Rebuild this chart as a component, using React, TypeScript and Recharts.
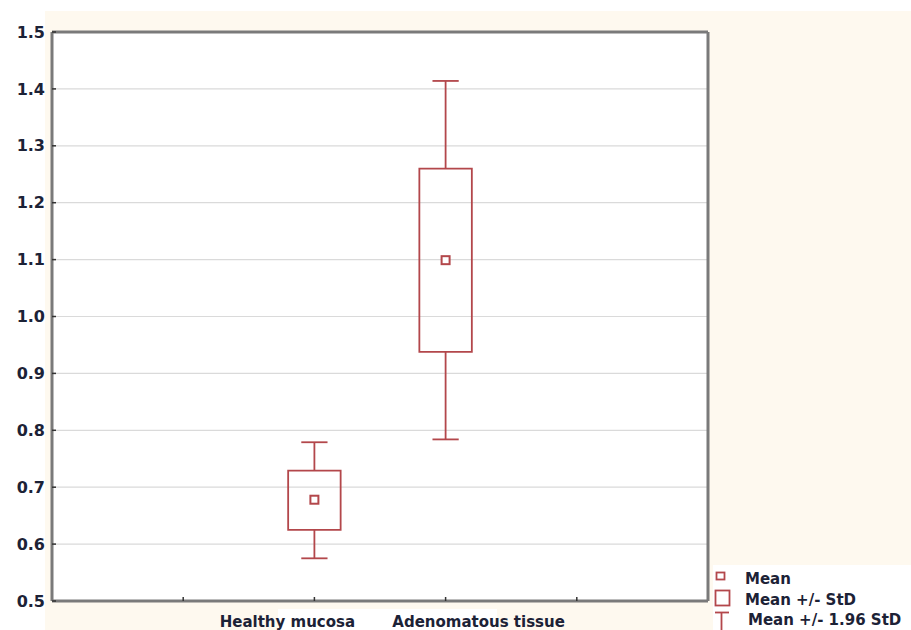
import React from 'react';
import {
  ComposedChart,
  XAxis,
  YAxis,
  CartesianGrid,
  ReferenceArea,
  ReferenceLine,
  Scatter,
} from 'recharts';

// ---- data ----
const categories = ['Healthy mucosa', 'Adenomatous tissue'];
const xPositions = [2, 3];
const means = [0.678, 1.099];
const sdLow = [0.625, 0.938];
const sdHigh = [0.729, 1.26];
const ciLow = [0.575, 0.784];
const ciHigh = [0.779, 1.414];
const yTicks = [0.5, 0.6, 0.7, 0.8, 0.9, 1.0, 1.1, 1.2, 1.3, 1.4, 1.5];
const xTicks = [1, 2, 3, 4];
const legendLabels = ['Mean', 'Mean +/- StD', 'Mean +/- 1.96 StD'];

const data = categories.map((c, i) => ({ name: c, x: xPositions[i], mean: means[i] }));

// ---- style ----
const RED = '#B3474B';
const AXIS = '#7a7a7a';
const TEXT = '#1c2236';
const FONT = '"DejaVu Sans", Verdana, sans-serif';
const BOX_HALF = 0.2;
const CAP_HALF = 0.1;
const labelDx = [-27, 33];

const XTick = (props: any) => {
  const { x, y, payload } = props;
  const i = xPositions.indexOf(payload.value);
  if (i < 0) return <g />;
  return (
    <text
      x={x + labelDx[i]}
      y={y}
      dy={26}
      textAnchor="middle"
      fontFamily={FONT}
      fontWeight="bold"
      fontSize={15}
      fill={TEXT}
    >
      {categories[i]}
    </text>
  );
};

const MeanShape = (props: any) => {
  const { cx, cy } = props;
  return (
    <rect x={cx - 4} y={cy - 4} width={8} height={8} fill="#fff" stroke={RED} strokeWidth={2} />
  );
};

export default function App() {
  return (
    <div style={{ position: 'absolute', left: 0, top: 0, width: 911, height: 630, background: '#fff', overflow: 'hidden' }}>
      <div style={{ position: 'absolute', left: 45, top: 11, width: 866, height: 619, background: '#FEF9EF' }} />
      <div style={{ position: 'absolute', left: 278, top: 609, width: 219, height: 21, background: '#fff' }} />
      <div style={{ position: 'absolute', left: 713, top: 565, width: 198, height: 65, background: '#fff' }} />
      <div style={{ position: 'absolute', left: 0, top: 0 }}>
        <ComposedChart
          width={911}
          height={630}
          data={data}
          margin={{ top: 0, right: 202, bottom: 0, left: 0 }}
        >
          <CartesianGrid vertical={false} stroke="#dadada" strokeWidth={1.2} fill="#fff" fillOpacity={1} />
          <XAxis
            dataKey="x"
            type="number"
            domain={[0, 5]}
            ticks={xTicks}
            height={29}
            tick={<XTick />}
            tickSize={-4}
            tickMargin={4}
            tickLine={{ stroke: '#333', strokeWidth: 1.5 }}
            axisLine={{ stroke: AXIS, strokeWidth: 3 }}
            interval={0}
          />
          <XAxis
            xAxisId="top"
            orientation="top"
            type="number"
            domain={[0, 5]}
            ticks={xTicks}
            height={32}
            tick={false}
            tickSize={-4}
            tickLine={{ stroke: '#333', strokeWidth: 1.5 }}
            axisLine={{ stroke: AXIS, strokeWidth: 3 }}
          />
          <YAxis
            type="number"
            domain={[0.5, 1.5]}
            ticks={yTicks}
            width={52}
            tickSize={-4}
            tickMargin={11}
            tickFormatter={(v: number) => v.toFixed(1)}
            tick={{ fontFamily: FONT, fontWeight: 'bold', fontSize: 16, fill: TEXT }}
            tickLine={{ stroke: '#333', strokeWidth: 1.5 }}
            axisLine={{ stroke: AXIS, strokeWidth: 3 }}
            interval={0}
          />
          <YAxis
            yAxisId="right"
            orientation="right"
            type="number"
            domain={[0.5, 1.5]}
            ticks={yTicks}
            width={1}
            tick={false}
            tickSize={-4}
            tickLine={{ stroke: '#333', strokeWidth: 1.5 }}
            axisLine={{ stroke: AXIS, strokeWidth: 3 }}
          />
          {categories.map((c, i) => (
            <ReferenceLine
              key={'wu' + c}
              segment={[{ x: xPositions[i], y: sdHigh[i] }, { x: xPositions[i], y: ciHigh[i] }]}
              stroke={RED}
              strokeWidth={1.8}
              ifOverflow="visible"
            />
          ))}
          {categories.map((c, i) => (
            <ReferenceLine
              key={'wl' + c}
              segment={[{ x: xPositions[i], y: sdLow[i] }, { x: xPositions[i], y: ciLow[i] }]}
              stroke={RED}
              strokeWidth={1.8}
              ifOverflow="visible"
            />
          ))}
          {categories.map((c, i) => (
            <ReferenceLine
              key={'cu' + c}
              segment={[{ x: xPositions[i] - CAP_HALF, y: ciHigh[i] }, { x: xPositions[i] + CAP_HALF, y: ciHigh[i] }]}
              stroke={RED}
              strokeWidth={1.8}
              ifOverflow="visible"
            />
          ))}
          {categories.map((c, i) => (
            <ReferenceLine
              key={'cl' + c}
              segment={[{ x: xPositions[i] - CAP_HALF, y: ciLow[i] }, { x: xPositions[i] + CAP_HALF, y: ciLow[i] }]}
              stroke={RED}
              strokeWidth={1.8}
              ifOverflow="visible"
            />
          ))}
          {categories.map((c, i) => (
            <ReferenceArea
              key={'box' + c}
              x1={xPositions[i] - BOX_HALF}
              x2={xPositions[i] + BOX_HALF}
              y1={sdLow[i]}
              y2={sdHigh[i]}
              fill="#fff"
              fillOpacity={0}
              stroke={RED}
              strokeWidth={1.8}
              ifOverflow="visible"
            />
          ))}
          <Scatter dataKey="mean" shape={<MeanShape />} isAnimationActive={false} />
        </ComposedChart>
      </div>
      <svg style={{ position: 'absolute', left: 0, top: 0 }} width={911} height={630}>
        <rect x={716.5} y={572.5} width={8} height={7} fill="none" stroke={RED} strokeWidth={1.8} />
        <rect x={715.5} y={590.5} width={14} height={15} fill="none" stroke={RED} strokeWidth={1.8} />
        <line x1={715} x2={729} y1={612.5} y2={612.5} stroke={RED} strokeWidth={1.8} />
        <line x1={721.5} x2={721.5} y1={612} y2={632} stroke={RED} strokeWidth={1.8} />
        {legendLabels.map((l, i) => (
          <text
            key={l}
            x={i === 2 ? 748 : 745}
            y={584 + i * 20.5}
            fontFamily={FONT}
            fontWeight="bold"
            fontSize={15}
            fill={TEXT}
          >
            {l}
          </text>
        ))}
      </svg>
    </div>
  );
}
